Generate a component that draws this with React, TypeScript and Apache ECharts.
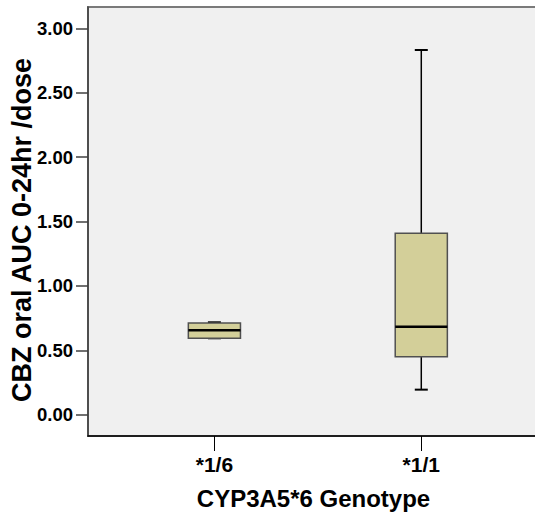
import React, { useEffect, useRef } from "react";
import * as echarts from "echarts";

// Box plot of CBZ oral AUC(0-24h)/dose by CYP3A5*6 genotype
const genotypes = ["*1/6", "*1/1"];
const genotypePositions = [1, 2];
const minValues = [0.593, 0.194];
const q1Values = [0.593, 0.45];
const medianValues = [0.655, 0.683];
const q3Values = [0.712, 1.408];
const maxValues = [0.717, 2.832];
const yTickValues = [0, 0.5, 1, 1.5, 2, 2.5, 3];
const yTitle = "CBZ oral AUC 0-24hr /dose";
const xTitle = "CYP3A5*6 Genotype";

const FONT = "'Liberation Sans', Arial, sans-serif";

export default function App() {
  const ref = useRef<HTMLDivElement>(null);

  useEffect(() => {
    if (!ref.current) return;
    const chart = echarts.init(ref.current, null, { renderer: "svg" });

    const boxData = genotypePositions.map((x, i) => [
      x,
      minValues[i],
      q1Values[i],
      medianValues[i],
      q3Values[i],
      maxValues[i],
    ]);

    const boxHalfWidth = 0.126; // in x-axis units
    const capHalfPx = 6.5;

    const option: echarts.EChartsOption = {
      animation: false,
      backgroundColor: "#ffffff",
      grid: {
        left: 88,
        right: -4,
        top: 7,
        bottom: 83,
        outerBoundsMode: "none",
        containLabel: false,
        show: true,
        backgroundColor: "#f0f0f0",
        borderColor: "#7a7a7a",
        borderWidth: 2,
      } as any,
      graphic: [
        {
          type: "text",
          x: 22,
          y: 230,
          rotation: Math.PI / 2,
          style: {
            text: yTitle,
            fontFamily: FONT,
            fontWeight: "bold",
            fontSize: 27,
            fill: "#000",
            align: "center",
            verticalAlign: "middle",
          },
        },
      ],
      xAxis: {
        type: "value",
        min: 0.389,
        max: 2.569,
        splitLine: { show: false },
        axisLine: { show: true, onZero: false, lineStyle: { color: "#000", width: 1.5 } },
        axisTick: {
          show: true,
          length: 15,
          customValues: genotypePositions,
          lineStyle: { color: "#000", width: 1 },
        },
        axisLabel: {
          show: true,
          customValues: genotypePositions,
          margin: 18,
          formatter: (v: number) => {
            const idx = genotypePositions.indexOf(Math.round(v));
            return idx >= 0 ? genotypes[idx] : "";
          },
          fontFamily: FONT,
          fontWeight: "bold",
          fontSize: 21,
          color: "#000",
        },
        name: xTitle,
        nameLocation: "middle",
        nameGap: 50,
        nameTextStyle: {
          fontFamily: FONT,
          fontWeight: "bold",
          fontSize: 24,
          color: "#000",
        },
      },
      yAxis: {
        type: "value",
        min: -0.166,
        max: 3.166,
        splitLine: { show: false },
        axisLine: { show: true, lineStyle: { color: "#404040", width: 1.5 } },
        axisTick: {
          show: true,
          length: 12,
          customValues: yTickValues,
          lineStyle: { color: "#404040", width: 1.5 },
        },
        axisLabel: {
          show: true,
          customValues: yTickValues,
          margin: 15,
          formatter: (v: number) => v.toFixed(2),
          fontFamily: FONT,
          fontWeight: "bold",
          fontSize: 18.5,
          color: "#000",
        },
      },
      series: [
        {
          type: "custom",
          data: boxData,
          encode: { x: 0, y: [1, 2, 3, 4, 5] },
          renderItem: (params: any, api: any) => {
            const x = api.value(0);
            const lo = api.coord([x, api.value(1)]);
            const q1 = api.coord([x, api.value(2)]);
            const med = api.coord([x, api.value(3)]);
            const q3 = api.coord([x, api.value(4)]);
            const hi = api.coord([x, api.value(5)]);
            const half = api.size([boxHalfWidth, 0])[0];
            const cx = lo[0];
            const whisker = { stroke: "#000", lineWidth: 1.5 };
            return {
              type: "group",
              children: [
                { type: "line", shape: { x1: cx, y1: q3[1], x2: cx, y2: hi[1] }, style: whisker },
                { type: "line", shape: { x1: cx, y1: q1[1], x2: cx, y2: lo[1] }, style: whisker },
                {
                  type: "line",
                  shape: { x1: cx - capHalfPx, y1: hi[1], x2: cx + capHalfPx, y2: hi[1] },
                  style: { stroke: "#000", lineWidth: 2 },
                },
                {
                  type: "line",
                  shape: { x1: cx - capHalfPx, y1: lo[1], x2: cx + capHalfPx, y2: lo[1] },
                  style: { stroke: "#000", lineWidth: 2 },
                },
                {
                  type: "rect",
                  shape: { x: cx - half, y: q3[1], width: half * 2, height: q1[1] - q3[1] },
                  style: { fill: "#d3cf99", stroke: "#505050", lineWidth: 1.5 },
                },
                {
                  type: "line",
                  shape: { x1: cx - half, y1: med[1], x2: cx + half, y2: med[1] },
                  style: { stroke: "#000", lineWidth: 2.5 },
                },
              ],
            };
          },
        },
      ],
    };

    chart.setOption(option);
    return () => chart.dispose();
  }, []);

  return (
    <div
      ref={ref}
      style={{ position: "absolute", left: 0, top: 0, width: 535, height: 519 }}
    />
  );
}
